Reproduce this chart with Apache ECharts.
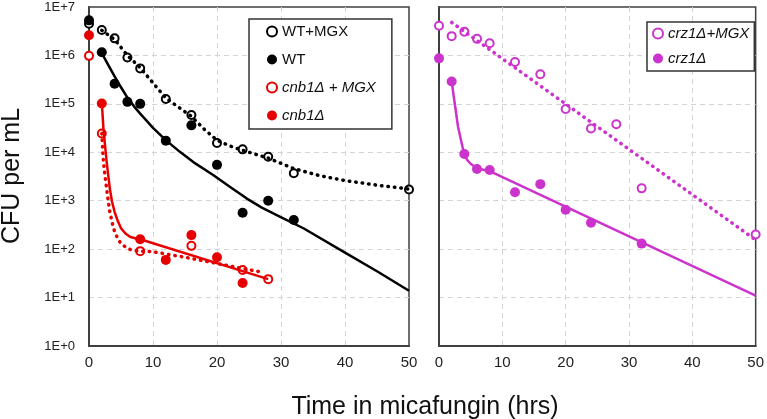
<!DOCTYPE html>
<html>
<head>
<meta charset="utf-8">
<script src="https://cdn.jsdelivr.net/npm/echarts@6/dist/echarts.min.js"></script>
<style>
  html, body { margin: 0; padding: 0; background: #fff; }
  #chart { width: 767px; height: 419px; }
</style>
</head>
<body>
<div id="chart"></div>
<script>
// 测量点 (时间 hrs, CFU/mL)
const wtMgxT = [0, 2, 4, 6, 8, 12, 16, 20, 24, 28, 32, 50];
const wtMgxCfu = [4.5e6, 3.35e6, 2.25e6, 9.1e5, 5.4e5, 1.26e5, 5.9e4, 1.55e4, 1.15e4, 8.1e3, 3.7e3, 1.7e3];
const wtT = [0, 2, 4, 6, 8, 12, 16, 20, 24, 28, 32];
const wtCfu = [5.3e6, 1.16e6, 2.6e5, 1.1e5, 1.0e5, 1.74e4, 3.6e4, 5.5e3, 565, 1.0e3, 400];
const cnb1MgxT = [0, 2, 8, 16, 24, 28];
const cnb1MgxCfu = [9.8e5, 2.45e4, 91, 117, 37, 24];
const cnb1T = [0, 2, 8, 12, 16, 20, 24];
const cnb1Cfu = [2.6e6, 1.02e5, 160, 60, 195, 68, 20];
const crz1MgxT = [0, 2, 4, 6, 8, 12, 16, 20, 24, 28, 32, 50];
const crz1MgxCfu = [4.1e6, 2.5e6, 3.1e6, 2.2e6, 1.78e6, 7.3e5, 4.1e5, 7.8e4, 3.1e4, 3.8e4, 1.8e3, 200];
const crz1T = [0, 2, 4, 6, 8, 12, 16, 20, 24, 32];
const crz1Cfu = [8.7e5, 2.9e5, 9.2e3, 4.5e3, 4.3e3, 1.5e3, 2.2e3, 650, 350, 130];

// 拟合曲线
const wtMgxFitT = [2, 4, 6, 8, 10, 12, 14, 16, 18, 20, 22, 24, 28, 32, 36, 40, 45, 50];
const wtMgxFitCfu = [3.3e6, 2.14e6, 1.0e6, 5.6e5, 2.7e5, 1.32e5, 8.5e4, 5.5e4, 3.0e4, 1.78e4, 1.35e4, 1.1e4, 7.6e3, 4.6e3, 3.3e3, 2.6e3, 2.1e3, 1.74e3];
const wtFitT = [2, 3, 4, 5, 6, 7, 8, 10, 12, 14.2, 16.6, 19.4, 22, 24.6, 27, 29.8, 33.5, 40, 45, 50];
const wtFitCfu = [1.12e6, 6.4e5, 3.7e5, 2.2e5, 1.35e5, 9.0e4, 6.3e4, 3.2e4, 1.78e4, 1.02e4, 5.9e3, 3.4e3, 1.95e3, 1.12e3, 720, 470, 270, 85, 35, 13.8];
const cnb1MgxFitT = [2, 2.25, 2.5, 2.75, 3, 3.25, 3.6, 4, 4.5, 5, 5.8, 6.7, 8, 9.8, 15, 27.2];
const cnb1MgxFitCfu = [2.45e4, 6.5e3, 3.3e3, 1.8e3, 1.0e3, 590, 360, 230, 165, 130, 108, 95, 91, 89, 68, 33];
const cnb1FitT = [2, 2.25, 2.5, 2.75, 3, 3.25, 3.6, 4, 4.5, 5, 5.7, 6.4, 7.2, 8, 28];
const cnb1FitCfu = [1.07e5, 3.16e4, 1.4e4, 6.5e3, 3.4e3, 1.8e3, 950, 590, 380, 270, 210, 180, 168, 160, 24];
const crz1MgxFitT = [2, 50];
const crz1MgxFitCfu = [4.8e6, 155];
const crz1FitT = [2, 3, 4, 4.5, 5, 6, 7, 8, 50];
const crz1FitCfu = [2.9e5, 3.4e4, 8.7e3, 6.8e3, 5.8e3, 4.7e3, 4.35e3, 4.1e3, 11];

const xTicks = [0, 10, 20, 30, 40, 50];

const BLACK = "#000000";
const RED = "#e60000";
const MAGENTA = "#cc33cc";
const FONT = "Liberation Sans, Arial, sans-serif";

const pts = (t, v) => t.map((x, i) => [x, v[i]]);

const fitLine = (name, t, v, color, dotted, idx) => ({
  name,
  type: "line",
  xAxisIndex: idx,
  yAxisIndex: idx,
  data: pts(t, v),
  showSymbol: false,
  symbol: "none",
  smooth: false,
  silent: true,
  lineStyle: dotted
    ? { color, width: 3.5, type: [0.5, 6], cap: "round", join: "round", opacity: 1 }
    : { color, width: 2.5, join: "round", opacity: 1 },
});

const marks = (name, t, v, color, open, idx) => ({
  name,
  type: "scatter",
  xAxisIndex: idx,
  yAxisIndex: idx,
  data: pts(t, v),
  symbol: "circle",
  symbolSize: open ? 8 : 10,
  itemStyle: open
    ? { color: "#ffffff", borderColor: color, borderWidth: 2, opacity: 1 }
    : { color, opacity: 1 },
});

// 网格线: 不画与边框重合的首尾线
const gridLine = {
  show: true,
  showMinLine: false,
  showMaxLine: false,
  lineStyle: { color: "#d4d4d4", type: [5, 4] },
};

const xAxisBase = (idx) => ({
  gridIndex: idx,
  type: "value",
  min: xTicks[0],
  max: xTicks[xTicks.length - 1],
  interval: 10,
  axisLine: { show: true, onZero: false, lineStyle: { color: "#404040", width: 2 } },
  axisTick: { show: false },
  axisLabel: { fontSize: 15, color: "#222", fontFamily: FONT, margin: 9 },
  splitLine: gridLine,
});

const yAxisBase = (idx, labels) => ({
  gridIndex: idx,
  type: "log",
  logBase: 10,
  min: 1,
  max: 1e7,
  axisLine: { show: true, lineStyle: { color: "#404040", width: 2 } },
  axisTick: { show: false },
  axisLabel: {
    show: labels,
    fontSize: 13,
    color: "#222",
    fontFamily: FONT,
    margin: 14,
    formatter: (v) => "1E+" + Math.round(Math.log10(v)),
  },
  splitLine: gridLine,
});

const legendBase = {
  orient: "vertical",
  itemWidth: 10,
  itemHeight: 14,
  borderColor: "#333",
  borderWidth: 1.5,
  backgroundColor: "#fff",
  textStyle: { fontSize: 15, color: "#111", fontFamily: FONT },
};

const chart = echarts.init(document.getElementById("chart"));

chart.setOption({
  animation: false,
  backgroundColor: "#fff",
  grid: [
    { left: 89, top: 7, width: 320, height: 339, show: true, borderColor: "#404040", borderWidth: 1.5 },
    { left: 439, top: 7, width: 320, height: 339, show: true, borderColor: "#404040", borderWidth: 1.5 },
  ],
  xAxis: [xAxisBase(0), xAxisBase(1)],
  yAxis: [yAxisBase(0, true), yAxisBase(1, false)],
  legend: [
    Object.assign({}, legendBase, {
      left: 249,
      top: 19,
      padding: [5, 16, 6, 17],
      itemGap: 13,
      data: [
        "WT+MGX",
        "WT",
        { name: "cnb1Δ + MGX", textStyle: { fontStyle: "italic" } },
        { name: "cnb1Δ", textStyle: { fontStyle: "italic" } },
      ],
    }),
    Object.assign({}, legendBase, {
      left: 647,
      top: 22,
      padding: [4, 5, 5, 5],
      itemGap: 10,
      data: [
        { name: "crz1Δ+MGX", textStyle: { fontStyle: "italic" } },
        { name: "crz1Δ", textStyle: { fontStyle: "italic" } },
      ],
    }),
  ],
  graphic: [
    {
      type: "text",
      x: 425,
      y: 407,
      style: {
        text: "Time in micafungin (hrs)",
        fontSize: 25,
        fontFamily: FONT,
        fill: "#111",
        align: "center",
        verticalAlign: "middle",
      },
    },
    {
      type: "text",
      x: 12,
      y: 176,
      rotation: Math.PI / 2,
      style: {
        text: "CFU per mL",
        fontSize: 25,
        fontFamily: FONT,
        fill: "#111",
        align: "center",
        verticalAlign: "middle",
      },
    },
  ],
  series: [
    fitLine("fit-wt-mgx", wtMgxFitT, wtMgxFitCfu, BLACK, true, 0),
    fitLine("fit-wt", wtFitT, wtFitCfu, BLACK, false, 0),
    fitLine("fit-cnb1-mgx", cnb1MgxFitT, cnb1MgxFitCfu, RED, true, 0),
    fitLine("fit-cnb1", cnb1FitT, cnb1FitCfu, RED, false, 0),
    marks("WT+MGX", wtMgxT, wtMgxCfu, BLACK, true, 0),
    marks("WT", wtT, wtCfu, BLACK, false, 0),
    marks("cnb1Δ + MGX", cnb1MgxT, cnb1MgxCfu, RED, true, 0),
    marks("cnb1Δ", cnb1T, cnb1Cfu, RED, false, 0),

    fitLine("fit-crz1-mgx", crz1MgxFitT, crz1MgxFitCfu, MAGENTA, true, 1),
    fitLine("fit-crz1", crz1FitT, crz1FitCfu, MAGENTA, false, 1),
    marks("crz1Δ+MGX", crz1MgxT, crz1MgxCfu, MAGENTA, true, 1),
    marks("crz1Δ", crz1T, crz1Cfu, MAGENTA, false, 1),
  ],
});
</script>
</body>
</html>
